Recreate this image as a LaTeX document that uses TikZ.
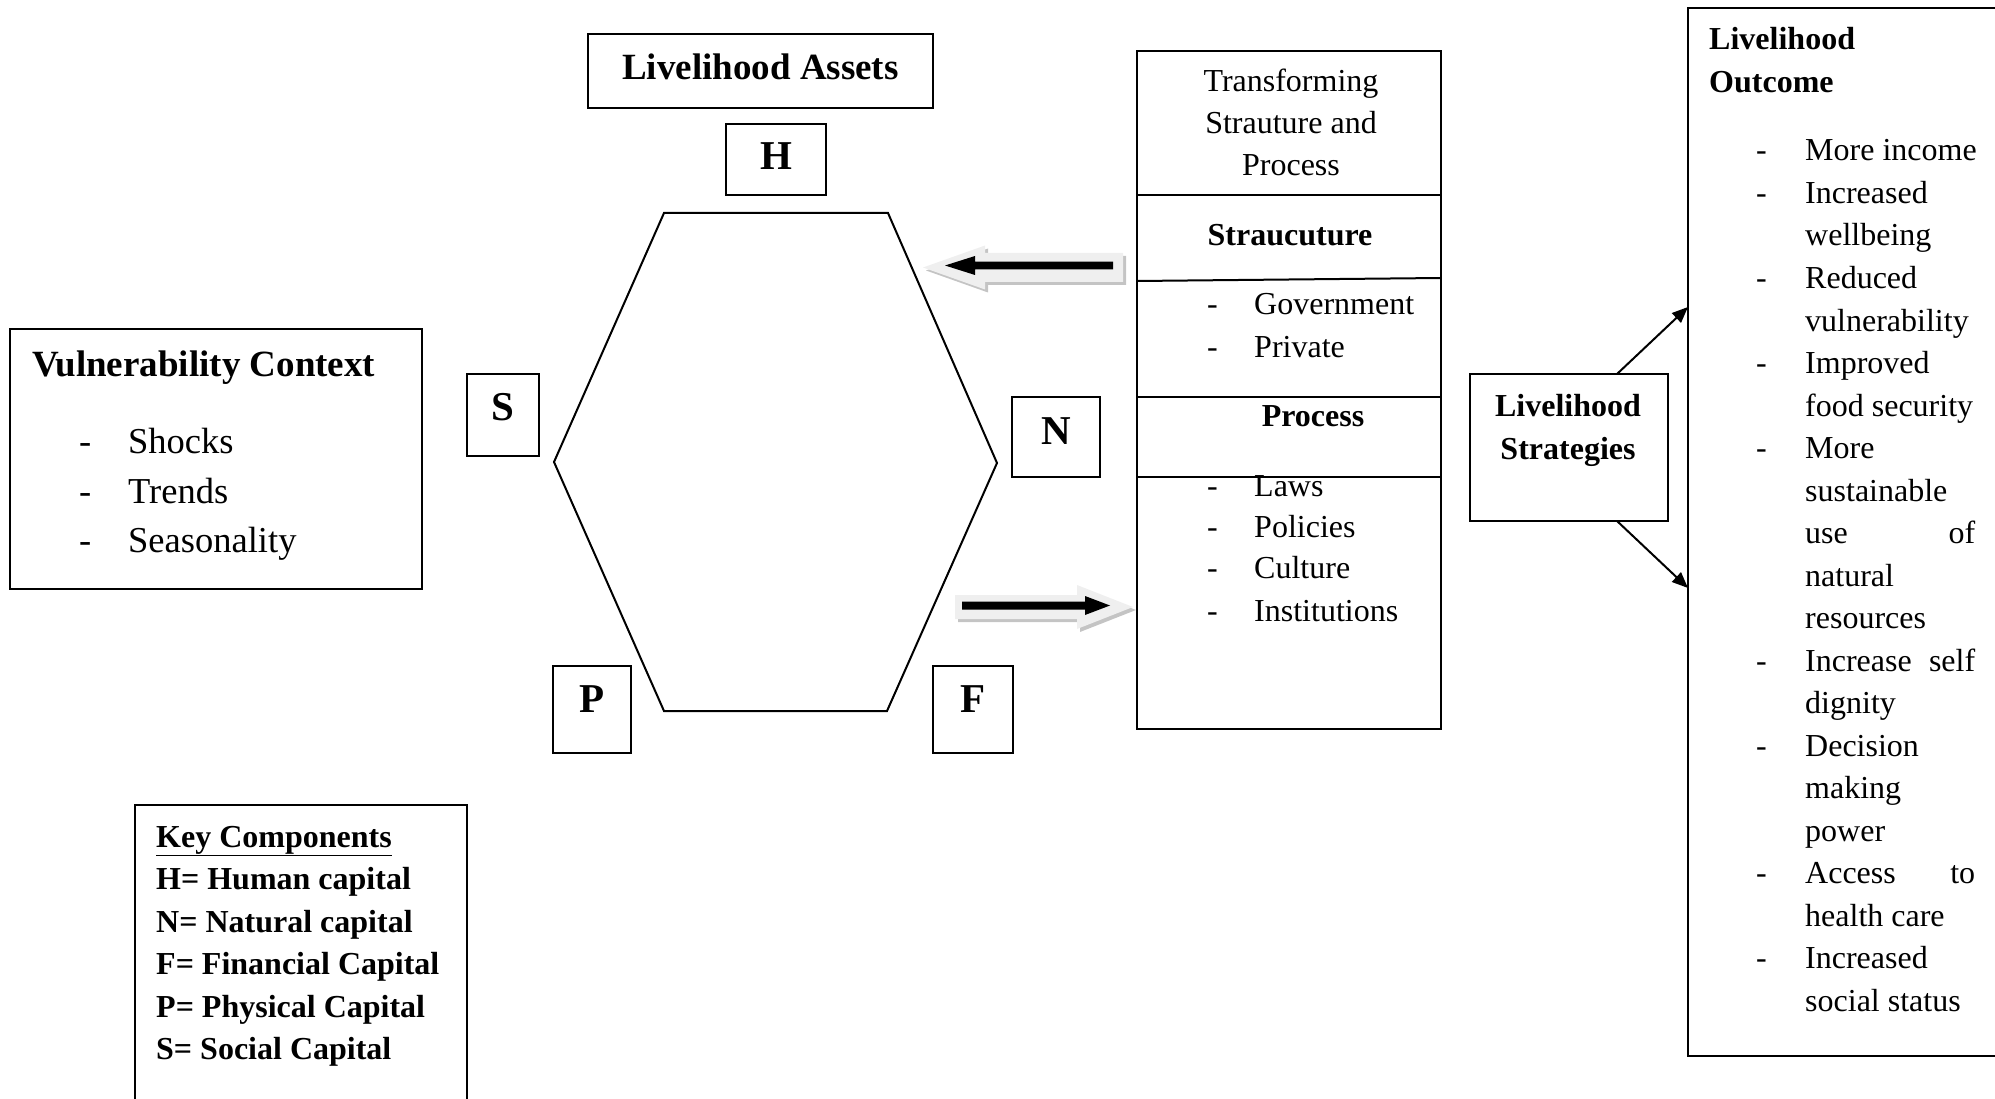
\documentclass[tikz,border=0pt]{standalone}
\usepackage{fontspec}
\setmainfont{Liberation Serif}
\usetikzlibrary{arrows.meta}

\definecolor{arrowface}{HTML}{EFEFEF}
\definecolor{arrowshade}{HTML}{C4C4C4}

\begin{document}
\begin{tikzpicture}[x=1pt,y=-1pt,
  frame/.style={draw=black, line width=2pt, inner sep=0pt, outer sep=0pt},
  letterbox/.style={frame},
  letter/.style={font={\fontsize{41}{41}\selectfont\bfseries}},
  txt/.style={inner sep=0pt, anchor=base west, font={\fontsize{32}{38}\selectfont}},
  btxt/.style={inner sep=0pt, anchor=base west, font={\fontsize{32}{38}\selectfont\bfseries}},
  ctxt/.style={inner sep=0pt, anchor=base, font={\fontsize{32}{38}\selectfont}},
  cbtxt/.style={inner sep=0pt, anchor=base, font={\fontsize{32}{38}\selectfont\bfseries}},
  bigtxt/.style={inner sep=0pt, anchor=base west, font={\fontsize{36.5}{44}\selectfont}},
  bigbtxt/.style={inner sep=0pt, anchor=base west, font={\fontsize{37}{44}\selectfont\bfseries}},
  conn/.style={draw=black, line width=2pt, -{Triangle[length=16pt,width=13pt]}},
  hexline/.style={draw=black, line width=2pt, line join=miter}
]
\useasboundingbox (0,0) rectangle (1995,1099);

% ---------- frames ----------
\node[frame, minimum width=345pt, minimum height=74pt]   (assets)  at (760.5,71) {};
\node[frame, minimum width=412pt, minimum height=260pt]  (vuln)    at (216,459) {};
\node[frame, minimum width=332pt, minimum height=305pt]  (keybox)  at (301,957.5) {};
\node[frame, minimum width=304pt, minimum height=678pt]  (tsp)     at (1289,390) {};
\node[frame, minimum width=198pt, minimum height=147pt]  (strat)   at (1569,447.5) {};
\node[frame, minimum width=330pt, minimum height=1048pt] (outcome) at (1853,532) {};

% section rules inside the transforming structures box
\draw[line width=2pt] (1137,195) -- (1441,195);
\draw[line width=2pt] (1137,281) -- (1441,278);
\draw[line width=2pt] (1137,397) -- (1441,397);
\draw[line width=2pt] (1137,477) -- (1441,477);

% ---------- asset hexagon ----------
\draw[hexline] (664,213) -- (888,213) -- (997,463) -- (887,711) -- (664,711) -- (554,462) -- cycle;

% ---------- capital letter boxes ----------
\node[letterbox, minimum width=100pt, minimum height=71pt,
      label={[letter, yshift=3pt]center:H}] (capH) at (776,159.5) {};
\node[letterbox, minimum width=72pt, minimum height=82pt,
      label={[letter, yshift=8pt]center:S}] (capS) at (503,415) {};
\node[letterbox, minimum width=88pt, minimum height=80pt,
      label={[letter, yshift=6pt]center:N}] (capN) at (1056,437) {};
\node[letterbox, minimum width=78pt, minimum height=87pt,
      label={[letter, yshift=10pt]center:P}] (capP) at (592,709.5) {};
\node[letterbox, minimum width=80pt, minimum height=87pt,
      label={[letter, yshift=10pt]center:F}] (capF) at (973,709.5) {};

% ---------- shaded block arrows ----------
% pointing left, towards the assets
\fill[arrowshade] (926,270.5) -- (988,248.5) -- (988,256) -- (1126,256) -- (1126,285) -- (988,285) -- (988,292.5) -- cycle;
\fill[arrowface]  (923,267.5) -- (985,245.5) -- (985,253) -- (1123,253) -- (1123,282) -- (985,282) -- (985,289.5) -- cycle;
\fill[black] (945,265.5) -- (975,256) -- (975,261.7) -- (1113,261.7) -- (1113,269.3) -- (975,269.3) -- (975,275) -- cycle;
% pointing right, towards the structures box
\fill[arrowshade] (958,598) -- (1080,598) -- (1080,588) -- (1136,610) -- (1080,632) -- (1080,622) -- (958,622) -- cycle;
\fill[arrowface]  (955,595) -- (1077,595) -- (1077,585) -- (1133,607) -- (1077,629) -- (1077,619) -- (955,619) -- cycle;
\fill[black] (962,601.5) -- (1085,601.5) -- (1085,596) -- (1110,605.5) -- (1085,615) -- (1085,609.5) -- (962,609.5) -- cycle;

% ---------- strategies to outcomes ----------
\coordinate (tipA) at (1688,307);
\coordinate (tipB) at (1688,588);
\draw[conn] ([xshift=48pt]strat.north) -- (tipA);
\draw[conn] ([xshift=48pt]strat.south) -- (tipB);

% ---------- texts ----------
\node[bigbtxt] (assetsT) at (622,80) {Livelihood Assets};

\node[bigbtxt] (vulnT) at (32,377) {Vulnerability Context};
\foreach \ty/\tx [count=\i] in {453/Shocks, 503/Trends, 552/Seasonality}{
  \node[bigtxt] (vd\i) at (79,\ty) {-};
  \node[bigtxt] (vt\i) at (128,\ty) {\tx};
}

\node[btxt] (keyT) at (156,847) {\underline{Key Components}};
\foreach \ty/\tx [count=\i] in {889.5/H= Human capital, 932/N= Natural capital,
    974.5/F= Financial Capital, 1017/P= Physical Capital, 1059.5/S= Social Capital}{
  \node[btxt] (key\i) at (156,\ty) {\tx};
}

\node[ctxt] (tspA) at (1291,92) {Transforming};
\node[ctxt] (tspB) at (1291,134) {Strauture and};
\node[ctxt] (tspC) at (1291,176) {Process};
\node[cbtxt] (tspS) at (1290,246) {Straucuture};
\foreach \ty/\tx [count=\i] in {315/Government, 358/Private}{
  \node[txt] (sd\i) at (1207,\ty) {-};
  \node[txt] (st\i) at (1254,\ty) {\tx};
}
\node[cbtxt] (tspP) at (1313,426) {Process};
\foreach \ty/\tx [count=\i] in {496/Laws, 537/Policies, 578/Culture, 621/Institutions}{
  \node[txt] (pd\i) at (1207,\ty) {-};
  \node[txt] (pt\i) at (1254,\ty) {\tx};
}

\node[cbtxt] (stratA) at (1568,416) {Livelihood};
\node[cbtxt] (stratB) at (1568,459) {Strategies};

\node[btxt] (outA) at (1709,50) {Livelihood};
\node[btxt] (outB) at (1709,93) {Outcome};
\foreach \ty/\td/\tx [count=\i] in {
   161/1/More income, 203.5/1/Increased, 246/0/wellbeing, 288.5/1/Reduced,
   331/0/vulnerability, 373.5/1/Improved, 416/0/food security, 458.5/1/More,
   501/0/sustainable, 543.5/0/{\makebox[170pt][l]{use\hfill of}}, 586/0/natural,
   628.5/0/resources, 671/1/{\makebox[170pt][l]{Increase\hfill self}}, 713.5/0/dignity,
   756/1/Decision, 798.5/0/making, 841/0/power, 883.5/1/{\makebox[170pt][l]{Access\hfill to}},
   926/0/health care, 968.5/1/Increased, 1011/0/social status}{
  \ifnum\td=1 \node[txt] (od\i) at (1756,\ty) {-};\fi
  \node[txt] (ot\i) at (1805,\ty) {\tx};
}
\end{tikzpicture}
\end{document}
